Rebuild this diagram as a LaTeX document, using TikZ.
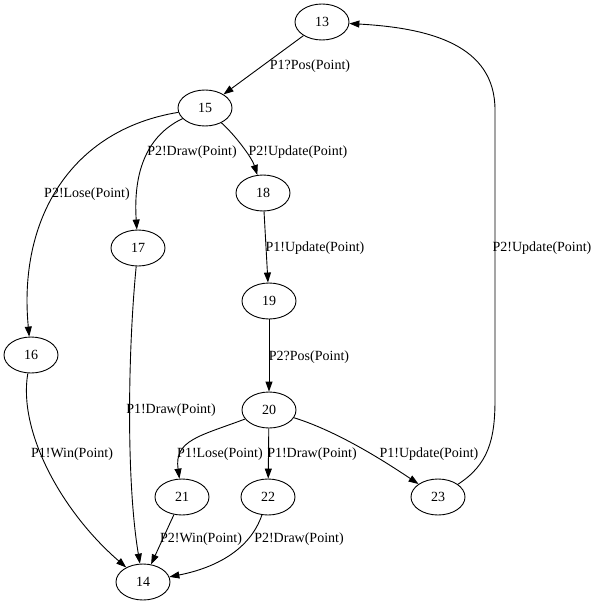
\documentclass[tikz,border=0pt]{standalone}
\usepackage{fontspec}
\setmainfont{Liberation Serif}
\usetikzlibrary{shapes.geometric, arrows.meta}

\begin{document}
\begin{tikzpicture}[
    x=1pt, y=-1pt,
    font=\fontsize{14}{16}\selectfont,
    state/.style={ellipse, draw, line width=0.9pt, minimum width=54pt, minimum height=36pt, inner sep=0pt},
    lbl/.style={inner sep=0pt},
    edge/.style={-{Triangle[length=10pt,width=7pt]}, line width=0.9pt}
]
\useasboundingbox (0,0) rectangle (598,604);

% states
\node[state] (n13) at (322,22) {13};
\node[state] (n15) at (205,108) {15};
\node[state] (n18) at (263,193) {18};
\node[state] (n17) at (138,248) {17};
\node[state] (n19) at (269,301) {19};
\node[state] (n16) at (31,355) {16};
\node[state] (n20) at (269,410) {20};
\node[state] (n21) at (182,497) {21};
\node[state] (n22) at (268,497) {22};
\node[state] (n23) at (438,497) {23};
\node[state] (n14) at (143,582) {14};

% labels
\node[lbl] (l1) at (310,66) {P1?Pos(Point)};
\node[lbl] (l2) at (192,152) {P2!Draw(Point)};
\node[lbl] (l3) at (298,152) {P2!Update(Point)};
\node[lbl] (l4) at (87,194) {P2!Lose(Point)};
\node[lbl] (l5) at (315,248) {P1!Update(Point)};
\node[lbl] (l6) at (542,248) {P2!Update(Point)};
\node[lbl] (l7) at (309,357) {P2?Pos(Point)};
\node[lbl] (l8) at (171,410) {P1!Draw(Point)};
\node[lbl] (l9) at (72,454) {P1!Win(Point)};
\node[lbl] (l10) at (220,454) {P1!Lose(Point)};
\node[lbl] (l11) at (312,454) {P1!Draw(Point)};
\node[lbl] (l12) at (429,454) {P1!Update(Point)};
\node[lbl] (l13) at (201,539) {P2!Win(Point)};
\node[lbl] (l14) at (299,539) {P2!Draw(Point)};

% transitions
\draw[edge] (n13) -- (n15);
\draw[edge] (n15) .. controls (70,130) and (18,220) .. (n16);
\draw[edge] (n15) .. controls (148,135) and (133,170) .. (n17);
\draw[edge] (n15) .. controls (236,136) and (252,158) .. (n18);
\draw[edge] (n17) .. controls (128,350) and (126,480) .. (n14);
\draw[edge] (n18) -- (n19);
\draw[edge] (n19) -- (n20);
\draw[edge] (n16) .. controls (18,430) and (60,510) .. (n14);
\draw[edge] (n20) .. controls (200,436) and (174,440) .. (n21);
\draw[edge] (n20) -- (n22);
\draw[edge] (n20) .. controls (340,432) and (390,465) .. (n23);
\draw[edge] (n21) -- (n14);
\draw[edge] (n22) .. controls (250,550) and (215,568) .. (n14);
\draw[edge] (n23) .. controls (488,465) and (495,440) .. (495,400) -- (495,110)
    .. controls (495,45) and (430,28) .. (n13);
\end{tikzpicture}
\end{document}
